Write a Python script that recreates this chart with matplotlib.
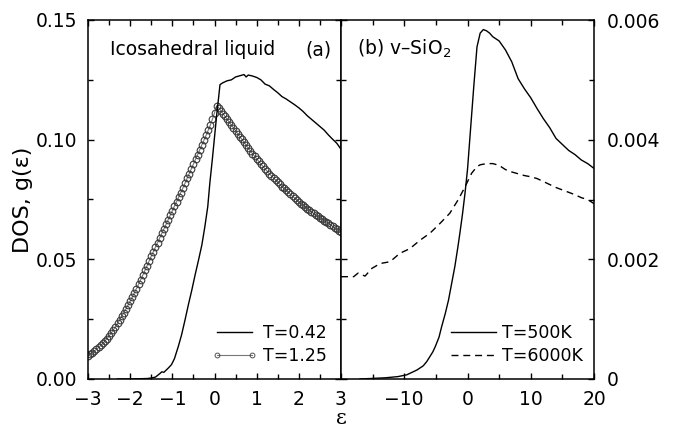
import numpy as np
import matplotlib
matplotlib.use("Agg")
import matplotlib.pyplot as plt
from matplotlib.ticker import MultipleLocator, FuncFormatter

# (a) icosahedral liquid, T=0.42 (solid line)
eps_a_cold = [-2.3, -2.0, -1.8, -1.6, -1.5, -1.4, -1.3, -1.25, -1.2, -1.1, -1.02,
              -0.95, -0.86, -0.78, -0.7, -0.62, -0.54, -0.46, -0.38, -0.3, -0.23,
              -0.16, -0.11, -0.05, 0.0, 0.05, 0.1, 0.13, 0.2, 0.3, 0.4, 0.5, 0.6,
              0.7, 0.75, 0.8, 0.9, 1.0, 1.1, 1.2, 1.3, 1.4, 1.5, 1.6, 1.7, 1.8,
              1.9, 2.0, 2.1, 2.2, 2.3, 2.4, 2.5, 2.6, 2.7, 2.8, 2.9, 3.0]
dos_a_cold = [0.0, 0.0, 0.0001, 0.0002, 0.0004, 0.0008, 0.0022, 0.0030, 0.0028,
              0.0045, 0.0060, 0.0085, 0.0135, 0.0185, 0.0246, 0.0310, 0.0370,
              0.0435, 0.0496, 0.0560, 0.0635, 0.0720, 0.0820, 0.0920, 0.1010,
              0.1100, 0.1180, 0.1230, 0.1238, 0.1246, 0.1250, 0.1262, 0.1267,
              0.1272, 0.1262, 0.1270, 0.1266, 0.1260, 0.1250, 0.1232, 0.1225,
              0.1210, 0.1196, 0.1180, 0.1170, 0.1158, 0.1146, 0.1133, 0.1118,
              0.1100, 0.1085, 0.1070, 0.1055, 0.1040, 0.1020, 0.1002, 0.0985,
              0.0960]

# (a) T=1.25 (circles), sampled every 0.05 from -3 to 3
eps_a_hot = [round(-3.0 + 0.05 * i, 2) for i in range(121)]
dos_a_hot = [0.0098, 0.0104, 0.0110, 0.0117, 0.0124, 0.0132, 0.0140, 0.0149,
             0.0159, 0.0169, 0.0180, 0.0192, 0.0205, 0.0218, 0.0232, 0.0247,
             0.0262, 0.0277, 0.0293, 0.0309, 0.0325, 0.0342, 0.0360, 0.0378,
             0.0396, 0.0415, 0.0434, 0.0454, 0.0473, 0.0493, 0.0513, 0.0532,
             0.0551, 0.0570, 0.0589, 0.0608, 0.0627, 0.0646, 0.0665, 0.0684,
             0.0703, 0.0722, 0.0741, 0.0760, 0.0779, 0.0798, 0.0818, 0.0838,
             0.0858, 0.0878, 0.0898, 0.0918, 0.0938, 0.0958, 0.0978, 0.0998,
             0.1018, 0.1039, 0.1061, 0.1085, 0.1112, 0.1142, 0.1133, 0.1121,
             0.1109, 0.1097, 0.1085, 0.1073, 0.1061, 0.1049, 0.1037, 0.1025,
             0.1013, 0.1001, 0.0989, 0.0977, 0.0965, 0.0953, 0.0942, 0.0931,
             0.0920, 0.0909, 0.0898, 0.0888, 0.0878, 0.0868, 0.0858, 0.0849,
             0.0840, 0.0831, 0.0822, 0.0813, 0.0804, 0.0796, 0.0788, 0.0780,
             0.0772, 0.0764, 0.0756, 0.0748, 0.0740, 0.0733, 0.0726, 0.0719,
             0.0712, 0.0705, 0.0698, 0.0692, 0.0686, 0.0680, 0.0674, 0.0668,
             0.0662, 0.0656, 0.0650, 0.0644, 0.0638, 0.0632, 0.0626, 0.0620,
             0.0614]

# (b) v-SiO2, T=500K (solid)
eps_b_cold = [-17, -15, -13, -11, -9.6, -8, -7, -6.45, -5.5, -5.1, -4.5, -4.1, -3.5,
              -3.0, -2.5, -2.0, -1.5, -1.2, -0.8, -0.4, 0.0, 0.5, 1.0, 1.5, 2.0,
              2.5, 3.0, 3.5, 4, 5, 6, 7, 8, 9, 10, 11, 12, 13, 14, 15, 16, 17,
              18, 19, 20]
dos_b_cold = [0.0, 0.00001, 0.00002, 0.00004, 0.00007, 0.00015, 0.00022, 0.00029,
              0.00045, 0.00054, 0.00070, 0.00087, 0.00110, 0.00132, 0.00160,
              0.00188, 0.00222, 0.00244, 0.00275, 0.00310, 0.00350, 0.00420,
              0.00490, 0.00555, 0.00578, 0.00584, 0.00582, 0.00578, 0.00572,
              0.00565, 0.00550, 0.00530, 0.00502, 0.00485, 0.00470, 0.00452,
              0.00435, 0.00420, 0.00402, 0.00392, 0.00382, 0.00375, 0.00366,
              0.00360, 0.00352]

# (b) T=6000K (dashed)
eps_b_hot = [-20, -19, -18, -17.3, -16.2, -15.1, -13.8, -12.25, -10.7, -9.1, -7.5,
             -5.9, -4.35, -2.8, -1.45, -0.4, 0.66, 1.5, 2.0, 3.0, 4.0, 5, 6, 7, 8,
             9, 10, 11, 12, 13, 14, 15, 16, 17, 18, 19, 20]
dos_b_hot = [0.00171, 0.00171, 0.00171, 0.00177, 0.00172, 0.00185, 0.00193,
             0.00196, 0.00210, 0.00218, 0.00232, 0.00244, 0.00260, 0.00277,
             0.00300, 0.00321, 0.00344, 0.00355, 0.00358, 0.00360, 0.00360,
             0.00357, 0.00350, 0.00346, 0.00343, 0.00340, 0.00338, 0.00335,
             0.00330, 0.00325, 0.00320, 0.00316, 0.00312, 0.00308, 0.00303,
             0.00300, 0.00293]

W, H = 674, 429
fig = plt.figure(figsize=(W / 100, H / 100), dpi=100)
ax1 = fig.add_axes([88 / W, 1 - 379 / H, 253 / W, 359 / H])
ax2 = fig.add_axes([341 / W, 1 - 379 / H, 253 / W, 359 / H])

fs = 13.5

# panel (a)
ax1.plot(eps_a_hot, dos_a_hot, color='#777777', lw=0.8, marker='o', ms=4.8,
         mfc='none', mec='#3a3a3a', mew=0.8, label='T=1.25', zorder=2)
ax1.plot(eps_a_cold, dos_a_cold, color='black', lw=1.0, label='T=0.42', zorder=3)
ax1.set_xlim(-3, 3)
ax1.set_ylim(0, 0.15)
ax1.xaxis.set_major_locator(MultipleLocator(1))
ax1.xaxis.set_minor_locator(MultipleLocator(0.5))
ax1.yaxis.set_major_locator(MultipleLocator(0.05))
ax1.yaxis.set_minor_locator(MultipleLocator(0.025))
ax1.yaxis.set_major_formatter(FuncFormatter(lambda v, p: '%.2f' % v))
ax1.set_ylabel('DOS, g(ε)', fontsize=16, labelpad=2)
h, l = ax1.get_legend_handles_labels()
leg1 = ax1.legend(h[::-1], l[::-1], loc='lower right', bbox_to_anchor=(0.945, 0.04),
                  frameon=False, fontsize=12.5, handlelength=2.6, handletextpad=0.35,
                  labelspacing=0.25, borderpad=0, borderaxespad=0, numpoints=2)
for ln in leg1.get_lines():
    ln.set_markersize(3.5)
    ln.set_markeredgewidth(0.6)
ax1.text(0.087, 0.9025, 'Icosahedral liquid', transform=ax1.transAxes,
         fontsize=fs, va='baseline')
ax1.text(0.858, 0.9025, '(a)', transform=ax1.transAxes, fontsize=fs, va='baseline')

# panel (b)
ax2.plot(eps_b_cold, dos_b_cold, color='black', lw=1.0, label='T=500K')
ax2.plot(eps_b_hot, dos_b_hot, color='black', lw=1.0, dashes=(5, 3.5), label='T=6000K')
ax2.set_xlim(-20, 20)
ax2.set_ylim(0, 0.006)
ax2.xaxis.set_major_locator(MultipleLocator(10))
ax2.xaxis.set_minor_locator(MultipleLocator(5))
ax2.xaxis.set_major_formatter(
    FuncFormatter(lambda v, p: '' if v <= -20 else ('%d' % v).replace('-', '\u2212')))
ax2.yaxis.set_major_locator(MultipleLocator(0.002))
ax2.yaxis.set_minor_locator(MultipleLocator(0.001))
ax2.yaxis.set_major_formatter(FuncFormatter(lambda v, p: '0' if v == 0 else '%.3f' % v))
ax2.yaxis.tick_right()
ax2.legend(loc='lower right', bbox_to_anchor=(0.957, 0.04), frameon=False,
           fontsize=12.5, handlelength=2.6, handletextpad=0.35,
           labelspacing=0.25, borderpad=0, borderaxespad=0)
ax2.text(0.063, 0.9025, '(b) v–SiO$_2$', transform=ax2.transAxes,
         fontsize=fs, va='baseline')

for ax in (ax1, ax2):
    for s in ax.spines.values():
        s.set_linewidth(1.1)
    ax.tick_params(which='both', direction='in', top=True, bottom=True,
                   left=True, right=True, labelsize=fs, width=1.0)
    ax.tick_params(which='major', length=4.5, pad=8)
    ax.tick_params(which='minor', length=3.5)
ax2.tick_params(axis='y', which='both', labelleft=False, labelright=True, pad=9.5)

fig.text(341 / W, 1 - 428 / H, 'ε', fontsize=15, family='DejaVu Serif',
         ha='center', va='bottom')

fig.savefig('out.png', dpi=100)
